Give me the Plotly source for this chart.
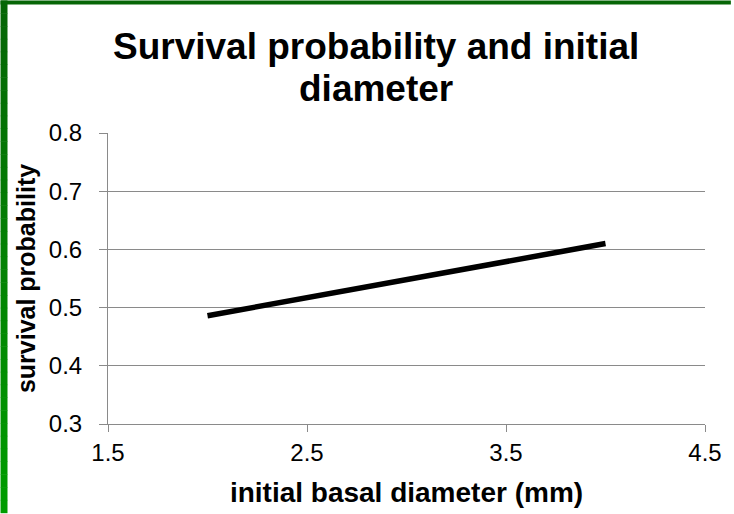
import plotly.graph_objects as go

# Fitted survival probability versus initial basal diameter
diameter_mm = [2.0, 3.0, 4.0]
survival_prob = [0.486, 0.548, 0.610]

x_ticks = [1.5, 2.5, 3.5, 4.5]
y_ticks = [0.3, 0.4, 0.5, 0.6, 0.7, 0.8]

title_lines = ["Survival probability and initial", "diameter"]

W, H = 734, 514
ML, MR, MT, MB = 108, 26, 133, 89
PW, PH = W - ML - MR, H - MT - MB

fig = go.Figure()
fig.add_trace(go.Scatter(
    x=diameter_mm, y=survival_prob, mode="lines",
    line=dict(color="black", width=5.5),
    hoverinfo="skip", showlegend=False,
))

grid = "#8a8a8a"
font = "Liberation Sans, Arial, sans-serif"

fig.update_xaxes(
    range=[1.5, 4.5], tickvals=x_ticks, ticktext=[f"{v:.1f}" for v in x_ticks],
    showgrid=False, zeroline=False, showline=True, linecolor=grid, linewidth=1,
    ticks="outside", ticklen=7, tickcolor=grid, tickwidth=1,
    tickfont=dict(family=font, size=24, color="black"),
    title=dict(text="<b>initial basal diameter (mm)</b>",
               font=dict(family=font, size=28, color="black"), standoff=17),
)
fig.update_yaxes(
    range=[0.3, 0.8], tickvals=y_ticks, ticktext=[f"{v:.1f}" for v in y_ticks],
    showgrid=True, gridcolor=grid, gridwidth=1, zeroline=False,
    showline=True, linecolor=grid, linewidth=1,
    ticks="outside", ticklen=8, tickcolor=grid, tickwidth=1,
    ticklabelstandoff=12,
    tickfont=dict(family=font, size=24, color="black"),
    title=dict(text="<b>survival probability</b>",
               font=dict(family=font, size=25, color="black"), standoff=6),
)

# pixel -> paper helpers for the frame and title placement
def px_x(p):
    return (p - ML) / PW

def px_y(p):
    return 1 - (p - MT) / PH

# green frame: dark band across the top, shaded strip down the left edge
shapes = [dict(type="rect", xref="paper", yref="paper",
               x0=px_x(0), x1=px_x(W), y0=px_y(4), y1=px_y(0),
               fillcolor="#066606", line=dict(width=0), layer="above")]
steps = 40
top_rgb, bot_rgb = (6, 102, 6), (0, 156, 0)
for i in range(steps):
    t = i / (steps - 1)
    r, g, b = (round(a + (c - a) * t) for a, c in zip(top_rgb, bot_rgb))
    y0p = H * i / steps
    y1p = H * (i + 1) / steps + 0.5
    shapes.append(dict(type="rect", xref="paper", yref="paper",
                       x0=px_x(0), x1=px_x(7), y0=px_y(y1p), y1=px_y(y0p),
                       fillcolor=f"rgb({r},{g},{b})", line=dict(width=0),
                       layer="above"))

# two-line chart title
annotations = []
for line, cy in zip(title_lines, [46, 88]):
    annotations.append(dict(
        text=f"<b>{line}</b>", xref="paper", yref="paper",
        x=px_x(377), y=px_y(cy), xanchor="center", yanchor="middle",
        showarrow=False, font=dict(family=font, size=37, color="black"),
    ))

fig.update_layout(
    width=W, height=H, margin=dict(l=ML, r=MR, t=MT, b=MB),
    paper_bgcolor="white", plot_bgcolor="white",
    shapes=shapes, annotations=annotations,
)

fig.write_html("out.html")
